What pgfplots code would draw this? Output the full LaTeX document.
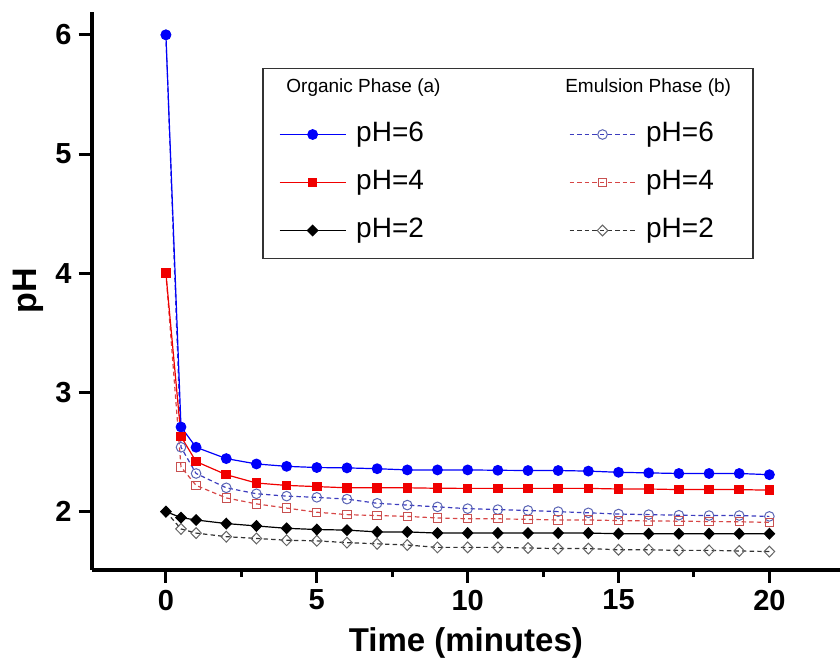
\documentclass[border=0pt]{standalone}
\usepackage{fontspec}
\setmainfont{Liberation Sans}
\usepackage{pgfplots}
\pgfplotsset{compat=1.18}
\definecolor{oblue}{RGB}{0,0,250}
\definecolor{ored}{RGB}{240,0,0}
\definecolor{eblue}{RGB}{60,60,190}
\definecolor{eblueM}{RGB}{90,100,180}
\definecolor{ered}{RGB}{215,70,70}
\definecolor{eredM}{RGB}{200,80,80}
\definecolor{eblack}{RGB}{50,50,50}
\definecolor{eblackM}{RGB}{100,100,100}
\begin{document}
\begin{tikzpicture}
\path[use as bounding box] (-45.85pt,-46pt) rectangle (374.2pt,285pt);
\begin{axis}[
  scale only axis,
  width=374.2pt, height=279.2pt,
  xmin=-2.46, xmax=22.34,
  ymin=1.511, ymax=6.195,
  axis x line*=bottom, axis y line*=left,
  axis line style={-, line width=2pt, black},
  xtick={0,5,10,15,20},
  minor xtick={2.5,7.5,12.5,17.5},
  ytick={2,3,4,5,6},
  tick align=outside,
  major tick length=6.5pt, minor tick length=3.5pt,
  every tick/.style={line width=1.5pt, black},
  /pgf/number format/assume math mode=true,
  xticklabel style={font=\bfseries\fontsize{14.5}{16}\selectfont},
  yticklabel style={font=\bfseries\fontsize{14.5}{16}\selectfont},
  xlabel={Time (minutes)},
  ylabel={pH},
  xlabel style={font=\bfseries\fontsize{16.5}{18}\selectfont, at={(axis description cs:0.5,-0.1468)}, anchor=base},
  ylabel style={font=\bfseries\fontsize{17}{18}\selectfont, at={(axis description cs:-0.0735,0.5)}, anchor=base},
  legend columns=2,
  legend image code/.code={\draw[mark repeat=2,mark phase=2,#1] plot coordinates {(0pt,2.6pt)(16.5pt,2.6pt)(33pt,2.6pt)};},
  legend style={at={(0.228,0.899)}, anchor=north west,
    draw=black!80, line width=0.75pt,
    font=\fontsize{14}{15}\selectfont,
    inner xsep=8pt, inner ysep=3.5pt,
    row sep=8pt,
    /tikz/every odd column/.append style={column sep=3pt},
    /tikz/every even column/.append style={column sep=70.5pt},
    nodes={inner sep=2pt, text height=7pt, text depth=5pt}},
]
% Emulsion phase (drawn underneath)
\addplot[forget plot, eblue, line width=0.6pt, dash pattern=on 2.2pt off 1.6pt, mark=o, mark size=2.4pt, mark options={solid, draw=eblueM, fill=white, line width=0.5pt}] coordinates {
(0,6.0)(0.5,2.54)(1,2.32)(2,2.20)(3,2.15)(4,2.13)(5,2.12)(6,2.105)(7,2.07)(8,2.055)(9,2.04)(10,2.025)(11,2.017)(12,2.01)(13,2.00)(14,1.99)(15,1.98)(16,1.975)(17,1.97)(18,1.967)(19,1.967)(20,1.96)};
\addplot[forget plot, ered, line width=0.6pt, dash pattern=on 2.2pt off 1.6pt, mark=square, mark size=2.1pt, mark options={solid, draw=eredM, fill=white, line width=0.5pt}] coordinates {
(0,4.0)(0.5,2.375)(1,2.22)(2,2.115)(3,2.065)(4,2.03)(5,1.995)(6,1.975)(7,1.967)(8,1.96)(9,1.947)(10,1.94)(11,1.94)(12,1.935)(13,1.93)(14,1.93)(15,1.925)(16,1.922)(17,1.92)(18,1.917)(19,1.915)(20,1.91)};
\addplot[forget plot, eblack, line width=0.6pt, dash pattern=on 2.2pt off 1.6pt, mark=diamond, mark size=2.7pt, mark options={solid, xscale=1.3, draw=eblackM, fill=white, line width=0.5pt}] coordinates {
(0,2.0)(0.5,1.855)(1,1.82)(2,1.79)(3,1.775)(4,1.76)(5,1.755)(6,1.74)(7,1.73)(8,1.72)(9,1.70)(10,1.70)(11,1.70)(12,1.695)(13,1.69)(14,1.69)(15,1.68)(16,1.68)(17,1.675)(18,1.675)(19,1.67)(20,1.665)};
% Legend headers
\addlegendimage{legend image code/.code={\node[overlay, anchor=west, inner sep=0pt, text height=, text depth=, font=\fontsize{9.5}{10}\selectfont] at (3pt,2pt) {Organic Phase (a)};}}
\addlegendentry{}
\addlegendimage{legend image code/.code={\node[overlay, anchor=west, inner sep=0pt, text height=, text depth=, font=\fontsize{9.5}{10}\selectfont] at (-2.5pt,2pt) {Emulsion Phase (b)};}}
\addlegendentry{}
% Organic phase
\addplot[oblue, line width=0.6pt, mark=*, mark size=2.4pt, mark options={fill=oblue, draw=oblue}] coordinates {
(0,6.0)(0.5,2.71)(1,2.54)(2,2.445)(3,2.40)(4,2.38)(5,2.37)(6,2.367)(7,2.36)(8,2.35)(9,2.35)(10,2.35)(11,2.347)(12,2.345)(13,2.345)(14,2.34)(15,2.33)(16,2.325)(17,2.32)(18,2.32)(19,2.32)(20,2.31)};
\addlegendentry{pH=6}
\addlegendimage{eblue, line width=0.6pt, dash pattern=on 2.2pt off 1.6pt, mark=o, mark size=2.4pt, mark options={solid, draw=eblueM, fill=white, line width=0.5pt}}
\addlegendentry{pH=6\hspace*{9.5pt}}
\addplot[ored, line width=0.6pt, mark=square*, mark size=2.1pt, mark options={fill=ored, draw=ored}] coordinates {
(0,4.0)(0.5,2.63)(1,2.42)(2,2.31)(3,2.24)(4,2.22)(5,2.21)(6,2.20)(7,2.20)(8,2.20)(9,2.196)(10,2.195)(11,2.195)(12,2.195)(13,2.195)(14,2.195)(15,2.19)(16,2.19)(17,2.185)(18,2.185)(19,2.185)(20,2.18)};
\addlegendentry{pH=4}
\addlegendimage{ered, line width=0.6pt, dash pattern=on 2.2pt off 1.6pt, mark=square, mark size=2.1pt, mark options={solid, draw=eredM, fill=white, line width=0.5pt}}
\addlegendentry{pH=4\hspace*{9.5pt}}
\addplot[black, line width=0.6pt, mark=diamond*, mark size=2.6pt, mark options={xscale=1.3, fill=black, draw=black}] coordinates {
(0,2.0)(0.5,1.95)(1,1.93)(2,1.90)(3,1.88)(4,1.86)(5,1.85)(6,1.845)(7,1.83)(8,1.83)(9,1.82)(10,1.82)(11,1.82)(12,1.82)(13,1.82)(14,1.82)(15,1.815)(16,1.815)(17,1.815)(18,1.815)(19,1.815)(20,1.815)};
\addlegendentry{pH=2}
\addlegendimage{eblack, line width=0.6pt, dash pattern=on 2.2pt off 1.6pt, mark=diamond, mark size=2.7pt, mark options={solid, xscale=1.3, draw=eblackM, fill=white, line width=0.5pt}}
\addlegendentry{pH=2\hspace*{9.5pt}}
\end{axis}
\end{tikzpicture}
\end{document}
